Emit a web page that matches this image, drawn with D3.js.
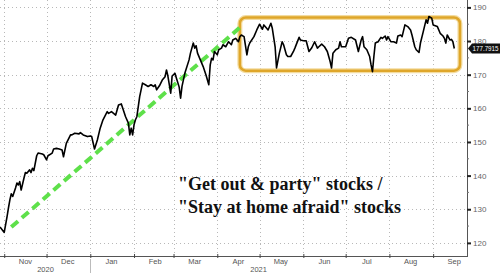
<!DOCTYPE html>
<html>
<head>
<meta charset="utf-8">
<script src="https://cdn.jsdelivr.net/npm/d3@7"></script>
<style>
  html, body { margin: 0; padding: 0; background: #fff; }
  svg { display: block; }
</style>
</head>
<body>
<div id="chart"></div>
<script>
// ratio series
const dates = [
  "2020-10-29","2020-11-01","2020-11-03","2020-11-04","2020-11-05","2020-11-06","2020-11-07","2020-11-09",
  "2020-11-10","2020-11-11","2020-11-12","2020-11-13","2020-11-15","2020-11-16","2020-11-17","2020-11-19",
  "2020-11-20","2020-11-21","2020-11-22","2020-11-24","2020-11-25","2020-11-28","2020-11-29","2020-12-01",
  "2020-12-02","2020-12-05","2020-12-06","2020-12-08","2020-12-10","2020-12-12","2020-12-13","2020-12-15",
  "2020-12-18","2020-12-19","2020-12-21","2020-12-24","2020-12-25","2020-12-27","2020-12-30","2021-01-01",
  "2021-01-02","2021-01-04","2021-01-06","2021-01-08","2021-01-10","2021-01-13","2021-01-14","2021-01-16",
  "2021-01-19","2021-01-21","2021-01-23","2021-01-24","2021-01-26","2021-01-28","2021-01-29","2021-01-30",
  "2021-01-31","2021-02-01","2021-02-02","2021-02-03","2021-02-05","2021-02-07","2021-02-09","2021-02-11",
  "2021-02-13","2021-02-15","2021-02-16","2021-02-17","2021-02-19","2021-02-21","2021-02-23","2021-02-24",
  "2021-02-25","2021-02-27","2021-02-28","2021-03-02","2021-03-03","2021-03-05","2021-03-06","2021-03-07",
  "2021-03-09","2021-03-12","2021-03-13","2021-03-15","2021-03-16","2021-03-17","2021-03-18","2021-03-20",
  "2021-03-22","2021-03-24","2021-03-26","2021-03-27","2021-03-28","2021-03-29","2021-03-30","2021-04-01",
  "2021-04-02","2021-04-04","2021-04-05","2021-04-07","2021-04-09","2021-04-11","2021-04-12","2021-04-14",
  "2021-04-16","2021-04-17","2021-04-18","2021-04-20","2021-04-22","2021-04-23","2021-04-24","2021-04-27",
  "2021-04-29","2021-05-01","2021-05-03","2021-05-04","2021-05-06","2021-05-07","2021-05-09","2021-05-10",
  "2021-05-12","2021-05-13","2021-05-15","2021-05-17","2021-05-18","2021-05-20","2021-05-21","2021-05-23",
  "2021-05-25","2021-05-26","2021-05-29","2021-05-30","2021-06-01","2021-06-03","2021-06-05","2021-06-07",
  "2021-06-09","2021-06-11","2021-06-12","2021-06-14","2021-06-16","2021-06-18","2021-06-20","2021-06-21",
  "2021-06-22","2021-06-24","2021-06-26","2021-06-27","2021-06-28","2021-07-01","2021-07-03","2021-07-05",
  "2021-07-08","2021-07-10","2021-07-12","2021-07-13","2021-07-14","2021-07-16","2021-07-18","2021-07-19",
  "2021-07-20","2021-07-21","2021-07-22","2021-07-24","2021-07-26","2021-07-27","2021-07-29","2021-07-30",
  "2021-07-31","2021-08-02","2021-08-04","2021-08-06","2021-08-07","2021-08-09","2021-08-10","2021-08-12",
  "2021-08-14","2021-08-16","2021-08-17","2021-08-19","2021-08-20","2021-08-22","2021-08-23","2021-08-25",
  "2021-08-27","2021-08-28","2021-08-29","2021-08-31","2021-09-01","2021-09-04","2021-09-06","2021-09-08",
  "2021-09-09","2021-09-10","2021-09-11","2021-09-13","2021-09-14","2021-09-15","2021-09-16"
];
const values = [
  124.7,123.1,127.8,130.4,132.8,134.6,133.8,136.3,
  137.8,137.2,138.2,135.7,139.3,140.9,140.7,141.7,
  140.9,142.2,141.5,145.9,146.7,146.4,146.2,144.7,
  145.9,146.7,147.9,148.1,147.9,147.6,145.6,149.6,
  152.1,152.1,152.6,152.4,152.8,152.1,151.6,151.8,
  151.6,147.9,150.6,154.1,156.6,159.0,158.5,159.0,
  158.0,161.0,161.3,160.0,157.5,155.6,152.1,154.1,
  152.1,155.1,156.6,157.5,163.5,167.5,167.0,166.5,
  167.0,166.5,167.0,165.5,166.7,168.4,169.4,171.4,
  169.6,164.5,169.6,170.4,169.0,166.3,163.0,166.5,
  170.4,174.4,176.4,179.4,177.9,178.6,176.4,174.4,
  172.4,169.9,167.0,172.9,174.9,174.4,176.9,175.9,
  177.4,177.9,178.9,178.3,179.8,178.9,180.3,180.8,
  179.8,181.3,181.8,181.3,175.9,178.3,179.4,181.3,
  183.3,185.0,183.5,184.8,183.8,183.3,185.3,183.8,
  178.3,172.0,176.4,179.8,178.9,175.9,175.4,175.4,
  176.9,177.9,181.1,180.3,180.1,180.1,176.9,178.0,
  179.8,177.9,178.3,179.1,178.3,176.9,173.9,172.0,
  176.4,177.4,177.9,179.8,178.3,178.3,180.8,181.1,
  180.3,176.9,180.3,181.3,178.3,177.4,175.4,172.9,
  170.9,175.4,179.4,179.8,181.1,180.8,181.5,180.3,
  181.3,179.8,179.8,179.4,181.5,181.8,181.3,184.8,
  184.3,183.3,181.8,178.3,177.4,176.6,179.4,182.8,
  186.3,185.3,187.3,186.8,184.8,184.3,182.3,181.5,
  180.8,179.4,181.8,180.3,180.5,179.8,177.7915
];

const yTicks = [120, 130, 140, 150, 160, 170, 180, 190];
const yMinorTicks = [125, 135, 145, 155, 165, 175, 185];
const monthStarts = ["2020-11-01","2020-12-01","2021-01-01","2021-02-01","2021-03-01","2021-04-01",
                     "2021-05-01","2021-06-01","2021-07-01","2021-08-01","2021-09-01"];
const monthLabels = ["Nov","Dec","Jan","Feb","Mar","Apr","May","Jun","Jul","Aug","Sep"];
const yearLabels = [{year: "2020", at: "2020-12-01"}, {year: "2021", at: "2021-05-01"}];
const yearBreak = "2021-01-01";

// annotations
const trendFrom = {date: "2020-11-06", value: 124.7};
const trendTo = {date: "2021-04-17", value: 184.0};
const rangeBox = {from: "2021-04-17", to: "2021-09-20", low: 171.2, high: 187.0};
const captionLines = ["\"Get out & party\" stocks /", "\"Stay at home afraid\" stocks"];

const parse = d3.timeParse("%Y-%m-%d");
const series = dates.map((d, i) => ({date: parse(d), value: values[i]}));

const W = 500, H = 273;
const plot = {left: 0, right: 467, top: 0, bottom: 256};

const svg = d3.select("#chart").append("svg")
  .attr("width", W)
  .attr("height", H)
  .style("font-family", "'Liberation Sans', Arial, sans-serif");

const x = d3.scaleTime()
  .domain([parse("2020-10-29"), parse("2021-09-25")])
  .range([plot.left, plot.right]);

const y = d3.scaleLinear()
  .domain([116.1, 192.2])
  .range([plot.bottom, plot.top]);

// dotted grid
const grid = svg.append("g").attr("stroke", "#b8b8b8").attr("stroke-width", 1)
  .attr("stroke-dasharray", "1,3");
grid.selectAll(".hgrid").data(yTicks).join("line")
  .attr("x1", plot.left).attr("x2", plot.right)
  .attr("y1", d => Math.round(y(d)) + 0.5).attr("y2", d => Math.round(y(d)) + 0.5);
grid.selectAll(".vgrid").data(monthStarts.map(parse)).join("line")
  .attr("x1", d => Math.round(x(d)) + 0.5).attr("x2", d => Math.round(x(d)) + 0.5)
  .attr("y1", plot.top).attr("y2", plot.bottom);

// right axis
const yAxis = svg.append("g")
  .attr("transform", `translate(${plot.right},0)`)
  .call(d3.axisRight(y).tickValues(yTicks).tickSize(4).tickPadding(2).tickFormat(d3.format("d")));
yAxis.select(".domain").attr("stroke", "#555").attr("d", `M0.5,${plot.top}V${plot.bottom}`);
yAxis.selectAll(".tick line").attr("stroke", "#222").attr("stroke-width", 2);
yAxis.selectAll(".tick text").attr("fill", "#666").style("font-size", "8px");
svg.append("g").selectAll("line").data(yMinorTicks).join("line")
  .attr("x1", plot.right).attr("x2", plot.right + 2)
  .attr("y1", d => y(d)).attr("y2", d => y(d))
  .attr("stroke", "#777");

// bottom axis
const xAxis = svg.append("g")
  .attr("transform", `translate(0,${plot.bottom})`)
  .call(d3.axisBottom(x).tickValues(monthStarts.map(parse)).tickSize(2).tickFormat(""));
xAxis.select(".domain").attr("stroke", "#555").attr("d", `M${plot.left},0.5H${plot.right + 1}`);
xAxis.selectAll(".tick line").attr("stroke", "#444").attr("y1", -2);

const monthMid = monthStarts.map(parse).map(d => d3.timeDay.offset(d, 15));
svg.append("g").selectAll("text").data(monthLabels).join("text")
  .attr("x", (d, i) => x(monthMid[i]))
  .attr("y", plot.bottom + 8)
  .attr("text-anchor", "middle")
  .attr("fill", "#555")
  .style("font-size", "7.5px")
  .text(d => d);

svg.append("g").selectAll("text").data(yearLabels).join("text")
  .attr("x", d => x(parse(d.at)) - 1)
  .attr("y", plot.bottom + 15.5)
  .attr("text-anchor", "middle")
  .attr("fill", "#555")
  .style("font-size", "7.5px")
  .text(d => d.year);

svg.append("line")
  .attr("x1", Math.round(x(parse(yearBreak))) + 0.5).attr("x2", Math.round(x(parse(yearBreak))) + 0.5)
  .attr("y1", plot.bottom + 3).attr("y2", H)
  .attr("stroke", "#bbb");

// range box
const bx0 = x(parse(rangeBox.from)), bx1 = x(parse(rangeBox.to));
const by0 = y(rangeBox.high), by1 = y(rangeBox.low);
svg.append("rect")
  .attr("x", bx0).attr("y", by0).attr("width", bx1 - bx0).attr("height", by1 - by0)
  .attr("rx", 6).attr("fill", "none")
  .attr("stroke", "#f3dca0").attr("stroke-width", 5);
svg.append("rect")
  .attr("x", bx0).attr("y", by0).attr("width", bx1 - bx0).attr("height", by1 - by0)
  .attr("rx", 6).attr("fill", "none")
  .attr("stroke", "#dfa62a").attr("stroke-width", 2.5);

// green trend arrow
svg.append("line")
  .attr("x1", x(parse(trendFrom.date))).attr("y1", y(trendFrom.value))
  .attr("x2", x(parse(trendTo.date))).attr("y2", y(trendTo.value))
  .attr("stroke", "#5ee04a").attr("stroke-width", 4)
  .attr("stroke-dasharray", "9,5");

// line
const line = d3.line().x(d => x(d.date)).y(d => y(d.value));
svg.append("path")
  .datum(series)
  .attr("fill", "none")
  .attr("stroke", "#000")
  .attr("stroke-width", 1.6)
  .attr("stroke-linejoin", "round")
  .attr("d", line);

// last value tag, covers the 180 label like the original
const last = series[series.length - 1];
const ly = y(last.value);
const tag = svg.append("g").attr("transform", `translate(${plot.right + 1},${ly})`);
tag.append("path")
  .attr("d", "M0,0L4,-5H32V5H4Z")
  .attr("fill", "#111");
tag.append("text")
  .attr("x", 4.5).attr("y", 3)
  .attr("fill", "#fff")
  .attr("textLength", 26)
  .attr("lengthAdjust", "spacingAndGlyphs")
  .style("font-size", "8px")
  .text(last.value.toFixed(4));

// caption
svg.append("g").selectAll("text").data(captionLines).join("text")
  .attr("x", 178)
  .attr("y", (d, i) => 190 + i * 23)
  .attr("fill", "#111")
  .style("font-family", "'Liberation Serif', 'Times New Roman', serif")
  .style("font-weight", "bold")
  .style("font-size", "18px")
  .text(d => d);
</script>
</body>
</html>
